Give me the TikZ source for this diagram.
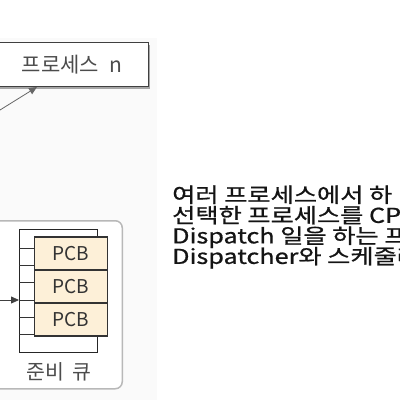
\documentclass[tikz,border=0pt]{standalone}
\usepackage{fontspec}
\newfontfamily\kr{Noto Sans CJK KR}
\newfontfamily\krb[FakeBold=0.8,FakeStretch=1.23]{Noto Sans CJK KR}
\newcommand\tightlines{\lineskiplimit-60pt\relax}
\usetikzlibrary{arrows.meta,shadows}
\definecolor{pcbfill}{RGB}{253,240,216}
\tikzset{
  procbox/.style={draw=black!75, line width=1.2pt, fill=white, inner sep=0pt,
    drop shadow={shadow xshift=2pt, shadow yshift=-2pt, fill=black!35, opacity=1}},
  pcbbox/.style={draw=black!80, line width=1.5pt, fill=pcbfill, inner sep=0pt,
    minimum width=73pt, minimum height=33pt, font=\kr\fontsize{19}{20}\selectfont, text=black!80},
  container/.style={draw=black!28, line width=1.5pt, rounded corners=7pt, fill=white, inner sep=0pt},
  frame/.style={draw=black!85, line width=1pt, fill=white, inner sep=0pt},
  conn/.style={draw=black!60, line width=0.8pt, -{Triangle[length=8pt,width=7pt]}},
  lbl/.style={inner sep=0pt, text=black!70}
}
\begin{document}
\begin{tikzpicture}[x=1pt,y=-1pt]
\useasboundingbox (0,0) rectangle (400,400);
\clip (0,0) rectangle (400,400);
\fill[black!2] (0,38) rectangle (157,400);
% process n
\node[procbox, minimum width=170pt, minimum height=44pt, anchor=north east] (pn) at (149,42) {};
\node[lbl, font=\kr\fontsize{21}{22}\selectfont] (pnl) at (72,65) {프로세스\hspace{10pt}n};
\coordinate (pin) at (0,110);
\draw[conn] (pin) -- (37,87);
% ready queue container
\node[container, minimum width=140pt, minimum height=168pt, anchor=north east] (rq) at (123,220) {};
\node[frame, minimum width=78pt, minimum height=123pt, anchor=north west] (q) at (19,229) {};
\foreach \yy in {248,265,282,300,317,334} \draw[black!80, line width=1pt] (19,\yy) -- (35,\yy);
\node[pcbbox] (p1) at (71,253.5) {PCB};
\node[pcbbox] (p2) at (71,286.5) {PCB};
\node[pcbbox] (p3) at (71,319.5) {PCB};
\coordinate (qin) at (0,300);
\draw[conn, draw=black!75] (qin) -- (q.west |- qin);
\node[lbl, font=\kr\fontsize{20.5}{22}\selectfont] (rql) at (59,372) {준비\hspace{9pt}큐};
% description
\node[anchor=west, inner sep=0pt, align=left, text=black!92,
  font=\krb\fontsize{20.5}{20.5}\selectfont\tightlines] (desc) at (172,227) {여러 프로세스에서 하\\선택한 프로세스를 CP\\Dispatch 일을 하는 프\\Dispatcher와 스케줄러};
\end{tikzpicture}
\end{document}
